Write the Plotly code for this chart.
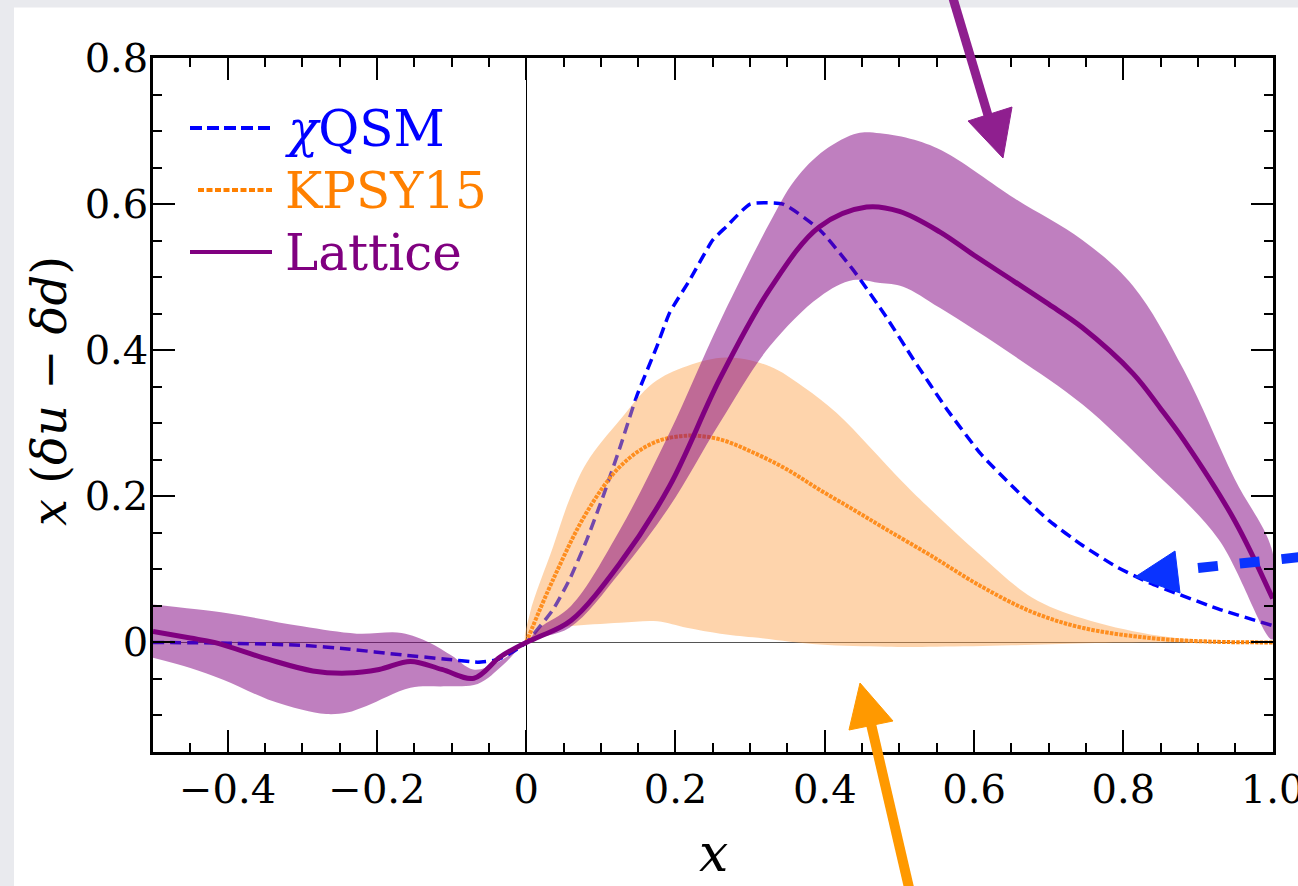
import plotly.graph_objects as go

# ---------------- data ----------------
lat_x = [-0.5, -0.45, -0.418, -0.346, -0.286, -0.24, -0.197, -0.155, -0.113, -0.07, -0.035,
         0.0, 0.018, 0.06, 0.126, 0.192, 0.259, 0.326, 0.393, 0.456, 0.5, 0.554, 0.6, 0.654,
         0.7, 0.745, 0.813, 0.85, 0.881, 0.949, 1.0]
lat_y = [0.015, 0.006, 0.0, -0.023, -0.039, -0.042, -0.037, -0.026, -0.037, -0.049, -0.02,
         0.0, 0.008, 0.03, 0.109, 0.214, 0.36, 0.483, 0.569, 0.596, 0.59, 0.562, 0.53, 0.494,
         0.463, 0.431, 0.368, 0.32, 0.277, 0.167, 0.06]

lat_up_x = [-0.5, -0.4, -0.3, -0.227, -0.167, -0.13, -0.1, -0.071, -0.04, 0.0, 0.018, 0.06,
            0.126, 0.192, 0.259, 0.326, 0.36, 0.4, 0.444, 0.474, 0.52, 0.563, 0.654, 0.745,
            0.813, 0.881, 0.949, 1.0]
lat_up_y = [0.052, 0.04, 0.022, 0.012, 0.013, 0.0, -0.018, -0.037, -0.028, 0.0, 0.02, 0.05,
            0.155, 0.287, 0.438, 0.574, 0.633, 0.674, 0.697, 0.697, 0.688, 0.67, 0.608, 0.551,
            0.488, 0.373, 0.224, 0.123]

lat_lo_x = [-0.5, -0.45, -0.406, -0.346, -0.3, -0.268, -0.24, -0.214, -0.155, -0.107, -0.065,
            -0.03, 0.0, 0.058, 0.126, 0.192, 0.259, 0.326, 0.393, 0.438, 0.474, 0.505, 0.554,
            0.654, 0.745, 0.836, 0.927, 1.0]
lat_lo_y = [-0.021, -0.035, -0.051, -0.078, -0.092, -0.098, -0.096, -0.087, -0.062, -0.06, -0.057,
            -0.03, 0.0, 0.02, 0.096, 0.186, 0.3, 0.405, 0.473, 0.496, 0.492, 0.487, 0.458,
            0.392, 0.326, 0.239, 0.142, 0.004]

qsm_x = [-0.5, -0.4, -0.3, -0.239, -0.167, -0.107, -0.065, -0.04, -0.023, 0.0, 0.036, 0.058,
         0.081, 0.103, 0.126, 0.148, 0.175, 0.192, 0.219, 0.25, 0.268, 0.3, 0.344, 0.393,
         0.438, 0.482, 0.519, 0.563, 0.609, 0.654, 0.7, 0.745, 0.79, 0.836, 0.927, 1.0]
qsm_y = [0.0, -0.001, -0.004, -0.009, -0.017, -0.023, -0.027, -0.024, -0.016, 0.0, 0.045, 0.086,
         0.14, 0.2, 0.268, 0.337, 0.405, 0.451, 0.496, 0.551, 0.569, 0.6, 0.6, 0.565,
         0.51, 0.446, 0.387, 0.32, 0.258, 0.211, 0.167, 0.133, 0.104, 0.081, 0.046, 0.023]

kp_x = [0.0, 0.036, 0.081, 0.126, 0.17, 0.215, 0.259, 0.304, 0.349, 0.393, 0.438, 0.482,
        0.542, 0.609, 0.677, 0.745, 0.836, 0.92, 1.0]
kp_y = [0.0, 0.086, 0.178, 0.241, 0.273, 0.283, 0.278, 0.26, 0.237, 0.209, 0.182, 0.155,
        0.119, 0.077, 0.042, 0.02, 0.006, 0.001, 0.0]

kp_up_x = [0.0, 0.005, 0.036, 0.058, 0.081, 0.126, 0.17, 0.215, 0.268, 0.326, 0.371, 0.416,
           0.46, 0.505, 0.542, 0.609, 0.677, 0.745, 0.836, 0.92, 1.0]
kp_up_y = [0.0, 0.04, 0.131, 0.196, 0.246, 0.305, 0.355, 0.378, 0.39, 0.378, 0.35, 0.314,
           0.268, 0.219, 0.182, 0.119, 0.062, 0.033, 0.011, 0.002, 0.0]

kp_lo_x = [0.0, 0.036, 0.058, 0.126, 0.176, 0.215, 0.26, 0.304, 0.393, 0.482, 0.55, 0.65,
           0.75, 0.85, 1.0]
kp_lo_y = [0.0, 0.018, 0.022, 0.027, 0.029, 0.02, 0.012, 0.007, -0.003, -0.006, -0.006, -0.004,
           -0.001, 0.0, 0.0]

x_tickvals = [-0.4, -0.2, 0, 0.2, 0.4, 0.6, 0.8, 1.0]
x_ticktext = ["\u22120.4", "\u22120.2", "0", "0.2", "0.4", "0.6", "0.8", "1.0"]
y_tickvals = [0, 0.2, 0.4, 0.6, 0.8]
y_ticktext = ["0", "0.2", "0.4", "0.6", "0.8"]

series_names = ["\u03c7QSM", "KPSY15", "Lattice"]
x_title = "<i>x</i>"
y_title = "<i>x</i> (<i>\u03b4u</i> \u2212 <i>\u03b4d</i>)"

# ---------------- styling ----------------
BLUE = "#0000ff"
ORANGE = "#ff8000"
PURPLE = "#800080"
FONT = "DejaVu Serif"

fig = go.Figure()

fig.add_trace(go.Scatter(x=qsm_x, y=qsm_y, mode="lines", name=series_names[0],
                         line=dict(color=BLUE, width=3.5, dash="11px,6px", shape="spline",
                                   smoothing=0.5), showlegend=False))
fig.add_trace(go.Scatter(x=kp_x, y=kp_y, mode="lines", name=series_names[1],
                         line=dict(color=ORANGE, width=4, dash="3.5px,1.2px", shape="spline"),
                         showlegend=False))
fig.add_trace(go.Scatter(x=kp_up_x + kp_lo_x[::-1], y=kp_up_y + kp_lo_y[::-1], mode="lines",
                         fill="toself", fillcolor="rgba(252,160,70,0.45)",
                         line=dict(width=0, shape="spline"),
                         hoverinfo="skip", showlegend=False, name="KPSY15 band"))
fig.add_trace(go.Scatter(x=lat_up_x + lat_lo_x[::-1], y=lat_up_y + lat_lo_y[::-1], mode="lines",
                         fill="toself", fillcolor="rgba(128,0,128,0.5)",
                         line=dict(width=0, shape="spline"),
                         hoverinfo="skip", showlegend=False, name="Lattice band"))
fig.add_trace(go.Scatter(x=lat_x, y=lat_y, mode="lines", name=series_names[2],
                         line=dict(color=PURPLE, width=5, shape="spline"), showlegend=False))

L, R, T, B = 153, 1273, 58, 752
W, H = R - L, B - T


def px(p):
    return (p - L) / W


def py(p):
    return (B - p) / H


shapes = []
GRAY = "#e9eaee"
# slide background strips
shapes.append(dict(type="rect", xref="paper", yref="paper", x0=px(-5), x1=px(14),
                   y0=py(900), y1=py(-5), fillcolor=GRAY, line=dict(width=0), layer="below"))
shapes.append(dict(type="rect", xref="paper", yref="paper", x0=px(-5), x1=px(1310),
                   y0=py(7.5), y1=py(-5), fillcolor=GRAY, line=dict(width=0), layer="below"))

# legend samples
shapes.append(dict(type="line", xref="paper", yref="paper", x0=px(190), x1=px(272),
                   y0=py(128), y1=py(128), line=dict(color=BLUE, width=4, dash="12px,5px")))
shapes.append(dict(type="line", xref="paper", yref="paper", x0=px(198), x1=px(272),
                   y0=py(190), y1=py(190), line=dict(color=ORANGE, width=4, dash="6px,2.5px")))
shapes.append(dict(type="line", xref="paper", yref="paper", x0=px(190), x1=px(272),
                   y0=py(252), y1=py(252), line=dict(color=PURPLE, width=4)))

# purple arrow
AP = "#8f1f8f"
shapes.append(dict(type="line", xref="paper", yref="paper", x0=px(952), y0=py(-5),
                   x1=px(990), y1=py(122), line=dict(color=AP, width=9)))
shapes.append(dict(type="path", xref="paper", yref="paper",
                   path=f"M {px(968)},{py(121)} L {px(1012)},{py(107)} L {px(1003)},{py(158)} Z",
                   fillcolor=AP, line=dict(color=AP, width=1)))
# orange arrow
AO = "#ff9900"
shapes.append(dict(type="line", xref="paper", yref="paper", x0=px(910), y0=py(892),
                   x1=px(871), y1=py(724), line=dict(color=AO, width=10)))
shapes.append(dict(type="path", xref="paper", yref="paper",
                   path=f"M {px(849)},{py(730)} L {px(893)},{py(721)} L {px(860)},{py(683)} Z",
                   fillcolor=AO, line=dict(color=AO, width=1)))
# blue dashed arrow
AB = "#0a33ff"
shapes.append(dict(type="line", xref="paper", yref="paper", x0=px(1198), y0=py(568),
                   x1=px(1320), y1=py(555), line=dict(color=AB, width=10, dash="20px,22px")))
shapes.append(dict(type="path", xref="paper", yref="paper",
                   path=f"M {px(1175)},{py(551)} L {px(1180)},{py(593)} L {px(1135)},{py(577)} Z",
                   fillcolor=AB, line=dict(color=AB, width=1)))

annotations = []
leg_y = [128, 190, 252]
leg_c = [BLUE, ORANGE, PURPLE]
leg_txt = ["<i>\u03c7</i>QSM", "KPSY15", "Lattice"]
for t, yy, c in zip(leg_txt, leg_y, leg_c):
    annotations.append(dict(xref="paper", yref="paper", x=px(283), y=py(yy + 1), text=t,
                            showarrow=False, xanchor="left", yanchor="middle",
                            font=dict(family=FONT, size=50, color=c)))
# axis titles
annotations.append(dict(xref="paper", yref="paper", x=px(713), y=py(885), text=x_title,
                        showarrow=False, xanchor="center", yanchor="bottom",
                        font=dict(family=FONT, size=52, color="black")))
annotations.append(dict(xref="paper", yref="paper", x=px(49), y=py(391), text=y_title,
                        showarrow=False, xanchor="center", yanchor="middle", textangle=-90,
                        font=dict(family=FONT, size=48, color="black")))

fig.update_layout(
    width=1298, height=886,
    margin=dict(l=L, r=1298 - R, t=T, b=886 - B, autoexpand=False),
    paper_bgcolor="white", plot_bgcolor="white",
    font=dict(family=FONT, color="black"),
    shapes=shapes, annotations=annotations,
    xaxis=dict(range=[-0.5, 1.0005], tickvals=x_tickvals, ticktext=x_ticktext,
               ticks="inside", ticklen=22, tickwidth=2, tickcolor="black",
               showline=True, linewidth=2.5, linecolor="black", mirror="allticks",
               showgrid=False, zeroline=True, zerolinecolor="black", zerolinewidth=1,
               tickfont=dict(family=FONT, size=40), ticklabelstandoff=0,
               ticklabeloverflow="allow",
               minor=dict(dtick=0.05, tick0=0, ticks="inside", ticklen=9, tickwidth=1.5,
                          tickcolor="black", showgrid=False)),
    yaxis=dict(range=[-0.15, 0.8], tickvals=y_tickvals, ticktext=y_ticktext,
               ticks="inside", ticklen=22, tickwidth=2, tickcolor="black",
               showline=True, linewidth=2.5, linecolor="black", mirror="allticks",
               showgrid=False, zeroline=True, zerolinecolor="#555555", zerolinewidth=1,
               tickfont=dict(family=FONT, size=40), ticklabelstandoff=-6,
               ticklabeloverflow="allow",
               minor=dict(dtick=0.05, tick0=0, ticks="inside", ticklen=9, tickwidth=1.5,
                          tickcolor="black", showgrid=False)),
)

fig.write_html("out.html", config={"displayModeBar": False},
               post_script="document.body.style.margin='0px';")
